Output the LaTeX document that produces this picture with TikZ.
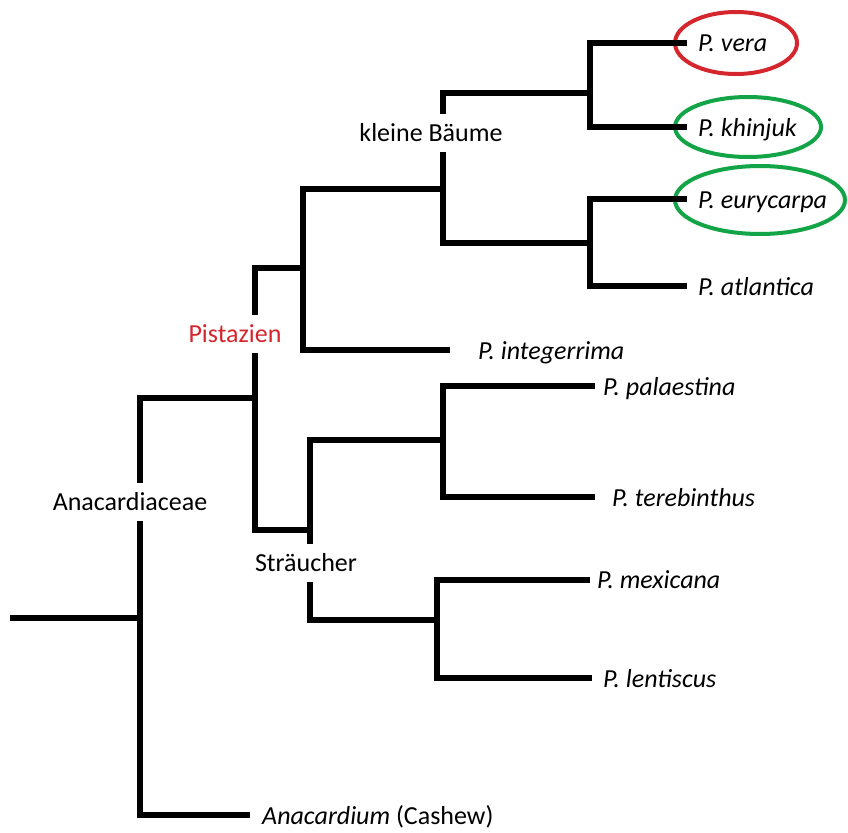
\documentclass[tikz,border=0pt]{standalone}
\usepackage{fontspec}
\setmainfont{Carlito}
\definecolor{vred}{RGB}{212,38,44}
\definecolor{vgreen}{RGB}{20,164,72}
\begin{document}
\begin{tikzpicture}[x=1pt,y=-1pt,
  br/.style={line width=6pt, line join=miter},
  leaf/.style={anchor=base west, inner sep=0pt, font=\itshape\fontsize{26}{30}\selectfont},
  clade/.style={fill=white, inner xsep=3pt, inner ysep=10pt, font=\fontsize{26}{30}\selectfont},
  ring/.style={line width=4pt}]
\useasboundingbox (0,0) rectangle (848,832);
% highlight ellipses
\draw[ring, vred] (736,43) ellipse [x radius=61, y radius=31];
\draw[ring, vgreen] (748,127) ellipse [x radius=73, y radius=30];
\draw[ring, vgreen] (760,200) ellipse [x radius=85, y radius=34];
% junctions
\coordinate (root) at (10,618);
\coordinate (anac) at (140,618);
\coordinate (pist) at (255,398);
\coordinate (trees) at (303,268);
\coordinate (shrubs) at (310,530);
\coordinate (kb) at (443,189);
\coordinate (veraG) at (590,93);
\coordinate (euryG) at (590,243);
\coordinate (palG) at (443,440);
\coordinate (mexG) at (437,620);
% tips
\coordinate (anaTip) at (250,815);
\coordinate (intTip) at (450,350);
\coordinate (veraTip) at (687,43);
\coordinate (khinTip) at (687,127);
\coordinate (euryTip) at (687,199);
\coordinate (atlTip) at (687,286);
\coordinate (palTip) at (595,386);
\coordinate (terTip) at (595,497);
\coordinate (mexTip) at (590,580);
\coordinate (lenTip) at (592,678);
% branches
\draw[br] (root) -- (anac);
\draw[br] (pist) -| (anac) |- (anaTip);
\draw[br] (trees) -| (pist) |- (shrubs);
\draw[br] (kb) -| (trees) |- (intTip);
\draw[br] (veraG) -| (kb) |- (euryG);
\draw[br] (veraTip) -| (veraG) |- (khinTip);
\draw[br] (euryTip) -| (euryG) |- (atlTip);
\draw[br] (palG) -| (shrubs) |- (mexG);
\draw[br] (palTip) -| (palG) |- (terTip);
\draw[br] (mexTip) -| (mexG) |- (lenTip);
% clade labels
\node[clade] (lkb) at (431,133) {kleine Bäume};
\node[clade, text=vred] (lpist) at (235,334) {Pistazien};
\node[clade] (lana) at (130,502) {Anacardiaceae};
\node[clade] (lstr) at (306,563) {Sträucher};
% leaves
\node[leaf] (vera) at (698,52) {P. vera};
\node[leaf] (khin) at (698,136) {P. khinjuk};
\node[leaf] (eury) at (698,208) {P. eurycarpa};
\node[leaf] (atl) at (698,295) {P. atlantica};
\node[leaf] (int) at (478,359) {P. integerrima};
\node[leaf] (pal) at (603,395) {P. palaestina};
\node[leaf] (ter) at (612,506) {P. terebinthus};
\node[leaf] (mex) at (597,588) {P. mexicana};
\node[leaf] (len) at (603,687) {P. lentiscus};
\node[leaf] (ana) at (262,824) {Anacardium \upshape(Cashew)};
\end{tikzpicture}
\end{document}
